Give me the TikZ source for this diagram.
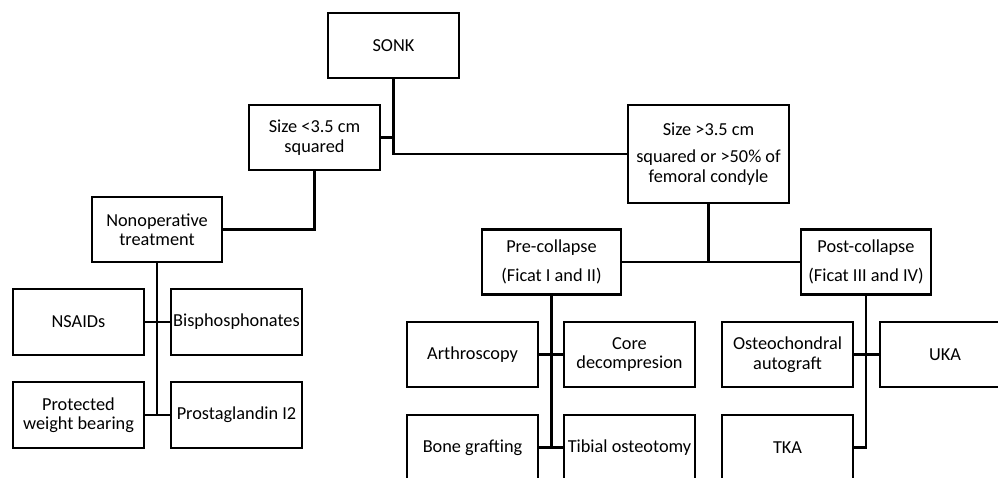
\documentclass[tikz,border=0pt]{standalone}
\usepackage{fontspec}
\setmainfont{Carlito}
\begin{document}
\begin{tikzpicture}[x=1pt,y=-1pt,
  box/.style={draw=black, line width=2.6pt, rectangle, align=center, inner sep=0pt,
    minimum width=131pt, minimum height=65pt, font=\fontsize{18.3}{19.5}\selectfont},
  conn/.style={draw=black, line width=2.6pt}]
\useasboundingbox (0,0) rectangle (998,477);
\fill[white] (0,0) rectangle (998,477);
\clip (0,0) rectangle (998,477);
% nodes
\node[box] (sonk) at (393.5,45.5) {SONK};
\node[box] (small) at (314.5,137.5) {Size <3.5 cm\\squared};
\node[box, minimum width=161pt, minimum height=98pt] (large) at (708.5,154) {Size >3.5 cm\\[8pt]squared or >50\% of\\femoral condyle};
\node[box, minimum width=130pt] (nonop) at (157,229.5) {Nonoperative\\treatment};
\node[box, minimum height=66pt] (nsaid) at (78.5,322) {NSAIDs};
\node[box, minimum height=66pt] (bisph) at (236.5,322) {Bisphosphonates};
\node[box, minimum height=66pt] (prot) at (78.5,415) {Protected\\weight bearing};
\node[box, minimum height=66pt] (prost) at (236.5,415) {Prostaglandin I2};
\node[box, minimum width=139pt] (pre) at (551.5,262) {Pre-collapse\\[10pt](Ficat I and II)};
\node[box, minimum width=130pt] (post) at (866,262) {Post-collapse\\[9pt](Ficat III and IV)};
\node[box] (arth) at (472.5,354.5) {Arthroscopy};
\node[box] (core) at (629.5,354.5) {Core\\decompresion};
\node[box] (bone) at (472.5,447.5) {Bone grafting};
\node[box] (tib) at (629.5,447.5) {Tibial osteotomy};
\node[box] (osteo) at (787.5,354.5) {Osteochondral\\autograft};
\node[box, minimum width=130pt] (uka) at (945,354.5) {UKA};
\node[box] (tka) at (787.5,447.5) {TKA};
% connectors
\draw[conn] (sonk.south) |- (large.west);
\draw[conn] (small.east) -- (small.east -| sonk.south);
\draw[conn] (small.south) |- (nonop.east);
\draw[conn] (nonop.south) -- (nonop.south |- prot.east);
\draw[conn] (nsaid.east) -- (bisph.west);
\draw[conn] (prot.east) -- (prost.west);
\draw[conn] (pre.east) -- (post.west);
\draw[conn] (large.south) -- (large.south |- pre.east);
\draw[conn] (pre.south) -- (pre.south |- bone.east);
\draw[conn] (arth.east) -- (core.west);
\draw[conn] (bone.east) -- (tib.west);
\draw[conn] (post.south) |- (tka.east);
\draw[conn] (osteo.east) -- (uka.west);
\end{tikzpicture}
\end{document}
